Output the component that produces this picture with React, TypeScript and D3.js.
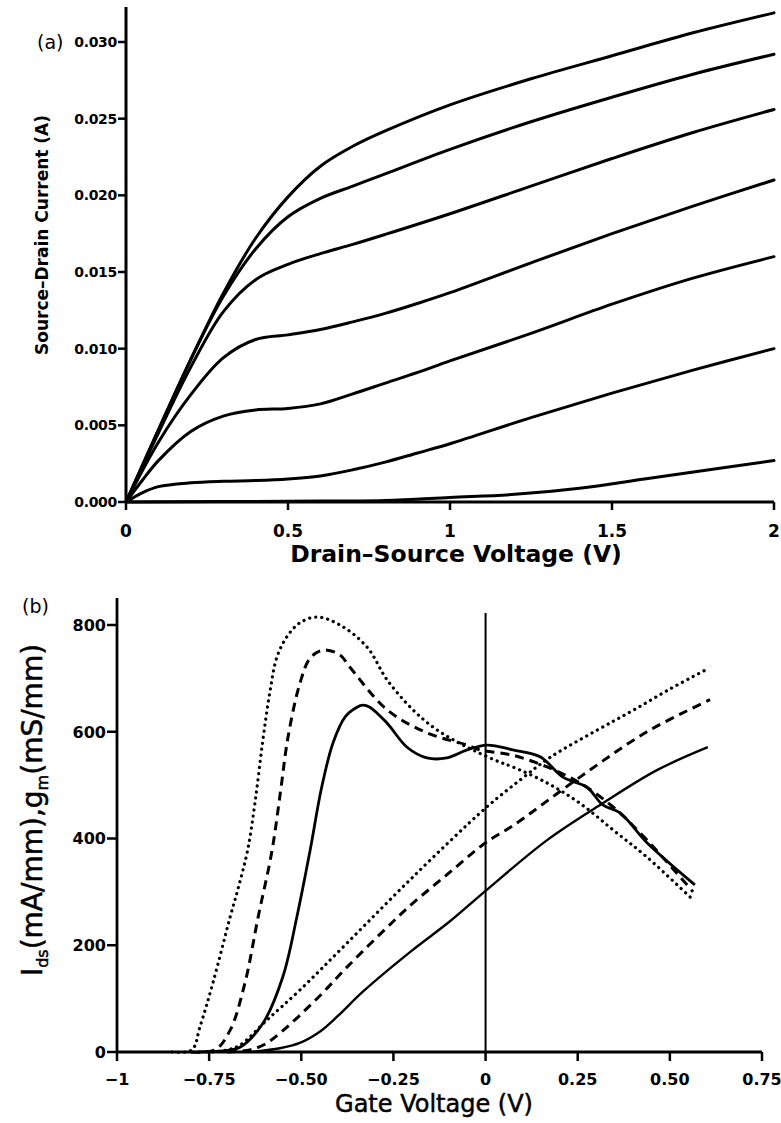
import React from "react";
import * as d3 from "d3";

// ---------- Panel (a): output characteristics, current in mA ----------
const vdsTicks = [0, 0.5, 1, 1.5, 2];
const idTicks = [0, 0.005, 0.01, 0.015, 0.02, 0.025, 0.03];

const curveA1: [number, number][] = [[0, 0], [0.1, 4.7], [0.2, 9.3], [0.3, 13.6], [0.4, 17.2], [0.5, 19.9], [0.6, 21.9], [0.7, 23.2], [0.8, 24.2], [1.0, 25.9], [1.25, 27.6], [1.5, 29.1], [1.75, 30.6], [2.0, 31.9]];
const curveA2: [number, number][] = [[0, 0], [0.1, 4.7], [0.2, 9.3], [0.3, 13.4], [0.4, 16.5], [0.5, 18.6], [0.6, 19.8], [0.7, 20.6], [0.8, 21.4], [1.0, 23.0], [1.25, 24.8], [1.5, 26.4], [1.75, 27.9], [2.0, 29.2]];
const curveA3: [number, number][] = [[0, 0], [0.1, 4.5], [0.2, 8.8], [0.3, 12.4], [0.4, 14.5], [0.5, 15.5], [0.6, 16.2], [0.7, 16.8], [0.8, 17.45], [1.0, 18.8], [1.25, 20.6], [1.5, 22.4], [1.75, 24.1], [2.0, 25.6]];
const curveA4: [number, number][] = [[0, 0], [0.1, 3.9], [0.2, 7.0], [0.3, 9.4], [0.4, 10.6], [0.5, 10.9], [0.6, 11.25], [0.7, 11.75], [0.8, 12.3], [0.9, 12.95], [1.0, 13.65], [1.25, 15.6], [1.5, 17.5], [1.75, 19.3], [2.0, 21.0]];
const curveA5: [number, number][] = [[0, 0], [0.05, 1.4], [0.1, 2.7], [0.2, 4.6], [0.3, 5.6], [0.4, 6.0], [0.5, 6.1], [0.6, 6.4], [0.7, 7.05], [0.8, 7.75], [0.9, 8.45], [1.0, 9.2], [1.25, 11.0], [1.5, 12.9], [1.75, 14.6], [2.0, 16.0]];
const curveA6: [number, number][] = [[0, 0], [0.05, 0.6], [0.1, 1.0], [0.2, 1.25], [0.3, 1.35], [0.4, 1.4], [0.5, 1.5], [0.6, 1.7], [0.7, 2.1], [0.8, 2.6], [0.9, 3.2], [1.0, 3.8], [1.25, 5.5], [1.5, 7.1], [1.75, 8.6], [2.0, 10.0]];
const curveA7: [number, number][] = [[0, 0], [0.5, 0.05], [0.8, 0.1], [1.0, 0.3], [1.2, 0.5], [1.4, 0.9], [1.6, 1.5], [1.8, 2.1], [2.0, 2.7]];
const outputCurves = [curveA1, curveA2, curveA3, curveA4, curveA5, curveA6, curveA7];

// ---------- Panel (b): transfer characteristics ----------
const vgsTicks = [-1, -0.75, -0.5, -0.25, 0, 0.25, 0.5, 0.75];
const vgsTickLabels = ["\u22121", "\u22120.75", "\u22120.50", "\u22120.25", "0", "0.25", "0.50", "0.75"];
const yTicksB = [0, 200, 400, 600, 800];

// transconductance g_m (mS/mm)
const gmDotted: [number, number][] = [[-0.85, 0], [-0.797, 4], [-0.775, 47], [-0.74, 129], [-0.693, 253], [-0.67, 310], [-0.645, 380], [-0.625, 470], [-0.605, 580], [-0.585, 675], [-0.566, 740], [-0.539, 778], [-0.504, 804], [-0.457, 815], [-0.395, 800], [-0.322, 759], [-0.267, 697], [-0.197, 641], [-0.143, 609], [-0.088, 585], [-0.023, 562], [0.039, 543], [0.074, 534], [0.167, 504], [0.256, 466], [0.346, 416], [0.438, 365], [0.563, 285]];
const gmDashed: [number, number][] = [[-0.8, 0], [-0.734, 4], [-0.693, 41], [-0.653, 129], [-0.617, 253], [-0.58, 375], [-0.556, 490], [-0.536, 590], [-0.504, 690], [-0.476, 738], [-0.441, 753], [-0.395, 744], [-0.368, 721], [-0.267, 641], [-0.159, 598], [-0.05, 575], [-0.015, 566], [0.074, 556], [0.167, 534], [0.256, 504], [0.346, 459], [0.438, 397], [0.563, 300]];
const gmSolid: [number, number][] = [[-0.78, 0], [-0.7, 3], [-0.666, 9], [-0.604, 54], [-0.55, 141], [-0.512, 253], [-0.476, 378], [-0.445, 495], [-0.414, 579], [-0.381, 628], [-0.349, 646], [-0.333, 650], [-0.314, 646], [-0.267, 616], [-0.213, 571], [-0.159, 551], [-0.105, 551], [-0.05, 566], [0.004, 575], [0.074, 566], [0.148, 553], [0.21, 515], [0.275, 496], [0.318, 463], [0.365, 448], [0.438, 392], [0.568, 313]];

// drain current I_ds (mA/mm)
const idsDotted: [number, number][] = [[-0.74, 0], [-0.7, 4], [-0.666, 13], [-0.593, 60], [-0.504, 116], [-0.376, 204], [-0.197, 328], [0.0, 457], [0.1, 513], [0.175, 552], [0.3, 602], [0.4, 640], [0.5, 680], [0.603, 718]];
const idsDashed: [number, number][] = [[-0.7, 0], [-0.64, 4], [-0.6, 14], [-0.55, 40], [-0.45, 105], [-0.376, 159], [-0.25, 245], [-0.197, 279], [-0.1, 335], [0.0, 392], [0.074, 424], [0.256, 515], [0.438, 600], [0.609, 660]];
const idsSolid: [number, number][] = [[-0.64, 0], [-0.558, 7], [-0.504, 17], [-0.45, 38], [-0.4, 68], [-0.333, 113], [-0.2, 190], [-0.1, 243], [0.0, 302], [0.167, 397], [0.318, 466], [0.465, 528], [0.603, 571]];

const W = 781;
const H = 1123;

export default function App() {
  // panel (a) scales
  const xA = d3.scaleLinear().domain([0, 2]).range([126, 774]);
  const yA = d3.scaleLinear().domain([0, 0.03]).range([502, 42]);
  const lineA = d3
    .line<[number, number]>()
    .x((d) => xA(d[0]))
    .y((d) => yA(d[1] / 1000))
    .curve(d3.curveCatmullRom.alpha(0.5));

  // panel (b) scales
  const xB = d3.scaleLinear().domain([-1, 0.75]).range([117, 762]);
  const yB = d3.scaleLinear().domain([0, 800]).range([1052, 625]);
  const lineB = d3
    .line<[number, number]>()
    .x((d) => xB(d[0]))
    .y((d) => yB(d[1]))
    .curve(d3.curveCatmullRom.alpha(0.5));

  const font = "'DejaVu Sans', sans-serif";
  const dotted = { strokeDasharray: "0.1 6", strokeLinecap: "round" as const, strokeWidth: 3.2 };
  const dashed = { strokeDasharray: "9 6", strokeWidth: 3 };

  return (
    <svg
      width={W}
      height={H}
      viewBox={`0 0 ${W} ${H}`}
      style={{ position: "absolute", left: 0, top: 0, background: "#fff" }}
      fontFamily={font}
    >
      <rect width={W} height={H} fill="#fff" />

      {/* ---------- panel (a) ---------- */}
      <g>
        <line x1={xA(0)} x2={xA(0)} y1={yA(0)} y2={7} stroke="#000" strokeWidth={3} />
        <line x1={xA(0)} x2={xA(2)} y1={yA(0)} y2={yA(0)} stroke="#000" strokeWidth={3} />
        {idTicks.map((t) => (
          <g key={`ya${t}`}>
            <line x1={xA(0) - 8} x2={xA(0)} y1={yA(t)} y2={yA(t)} stroke="#000" strokeWidth={2.5} />
            <text x={xA(0) - 9} y={yA(t)} dy="0.36em" textAnchor="end" fontSize={14} fontWeight="bold" letterSpacing={-0.3}>
              {t.toFixed(3)}
            </text>
          </g>
        ))}
        {vdsTicks.map((t) => (
          <g key={`xa${t}`}>
            <line x1={xA(t)} x2={xA(t)} y1={yA(0)} y2={yA(0) + 8} stroke="#000" strokeWidth={2.5} />
            <text x={xA(t)} y={yA(0) + 35} textAnchor="middle" fontSize={17} fontWeight="bold">
              {String(t)}
            </text>
          </g>
        ))}
        {outputCurves.map((c, i) => (
          <path key={`ca${i}`} d={lineA(c) || ""} fill="none" stroke="#000" strokeWidth={3} strokeLinejoin="round" strokeLinecap="round" />
        ))}
        <text x={456} y={562} textAnchor="middle" fontSize={23.5} fontWeight="bold">
          Drain–Source Voltage (V)
        </text>
        <text transform="translate(48,235) rotate(-90)" textAnchor="middle" fontSize={17} fontWeight="bold">
          Source–Drain Current (A)
        </text>
        <text x={37} y={49} fontSize={19}>
          (a)
        </text>
      </g>

      {/* ---------- panel (b) ---------- */}
      <g>
        <line x1={xB(-1)} x2={xB(-1)} y1={yB(0)} y2={598} stroke="#000" strokeWidth={2.8} />
        <line x1={xB(-1)} x2={xB(0.75)} y1={yB(0)} y2={yB(0)} stroke="#000" strokeWidth={3.2} />
        <line x1={xB(0)} x2={xB(0)} y1={yB(0)} y2={613} stroke="#000" strokeWidth={2} />
        {yTicksB.map((t) => (
          <g key={`yb${t}`}>
            <line x1={xB(-1) - 10} x2={xB(-1)} y1={yB(t)} y2={yB(t)} stroke="#000" strokeWidth={2.5} />
            <text x={xB(-1) - 11} y={yB(t)} dy="0.36em" textAnchor="end" fontSize={16} fontWeight="bold">
              {String(t)}
            </text>
          </g>
        ))}
        {vgsTicks.map((t, i) => (
          <g key={`xb${t}`}>
            <line x1={xB(t)} x2={xB(t)} y1={yB(0)} y2={yB(0) + 9} stroke="#000" strokeWidth={2.5} />
            <text x={xB(t)} y={yB(0) + 33} textAnchor="middle" fontSize={16} fontWeight="bold">
              {vgsTickLabels[i]}
            </text>
          </g>
        ))}

        <path d={lineB(gmDotted) || ""} fill="none" stroke="#000" {...dotted} />
        <path d={lineB(gmDashed) || ""} fill="none" stroke="#000" {...dashed} />
        <path d={lineB(gmSolid) || ""} fill="none" stroke="#000" strokeWidth={2.8} strokeLinejoin="round" />
        <path d={lineB(idsDotted) || ""} fill="none" stroke="#000" {...dotted} />
        <path d={lineB(idsDashed) || ""} fill="none" stroke="#000" {...dashed} />
        <path d={lineB(idsSolid) || ""} fill="none" stroke="#000" strokeWidth={2.4} strokeLinejoin="round" />

        <text x={434} y={1112} textAnchor="middle" fontSize={24} stroke="#000" strokeWidth={0.5}>
          Gate Voltage (V)
        </text>
        <text transform="translate(42,810) rotate(-90)" textAnchor="middle" fontSize={28} stroke="#000" strokeWidth={0.5}>
          <tspan>I</tspan>
          <tspan fontSize={16} dy={6}>ds</tspan>
          <tspan dy={-6}>(mA/mm),g</tspan>
          <tspan fontSize={16} dy={6}>m</tspan>
          <tspan dy={-6}>(mS/mm)</tspan>
        </text>
        <text x={22} y={613} fontSize={19}>
          (b)
        </text>
      </g>
    </svg>
  );
}
